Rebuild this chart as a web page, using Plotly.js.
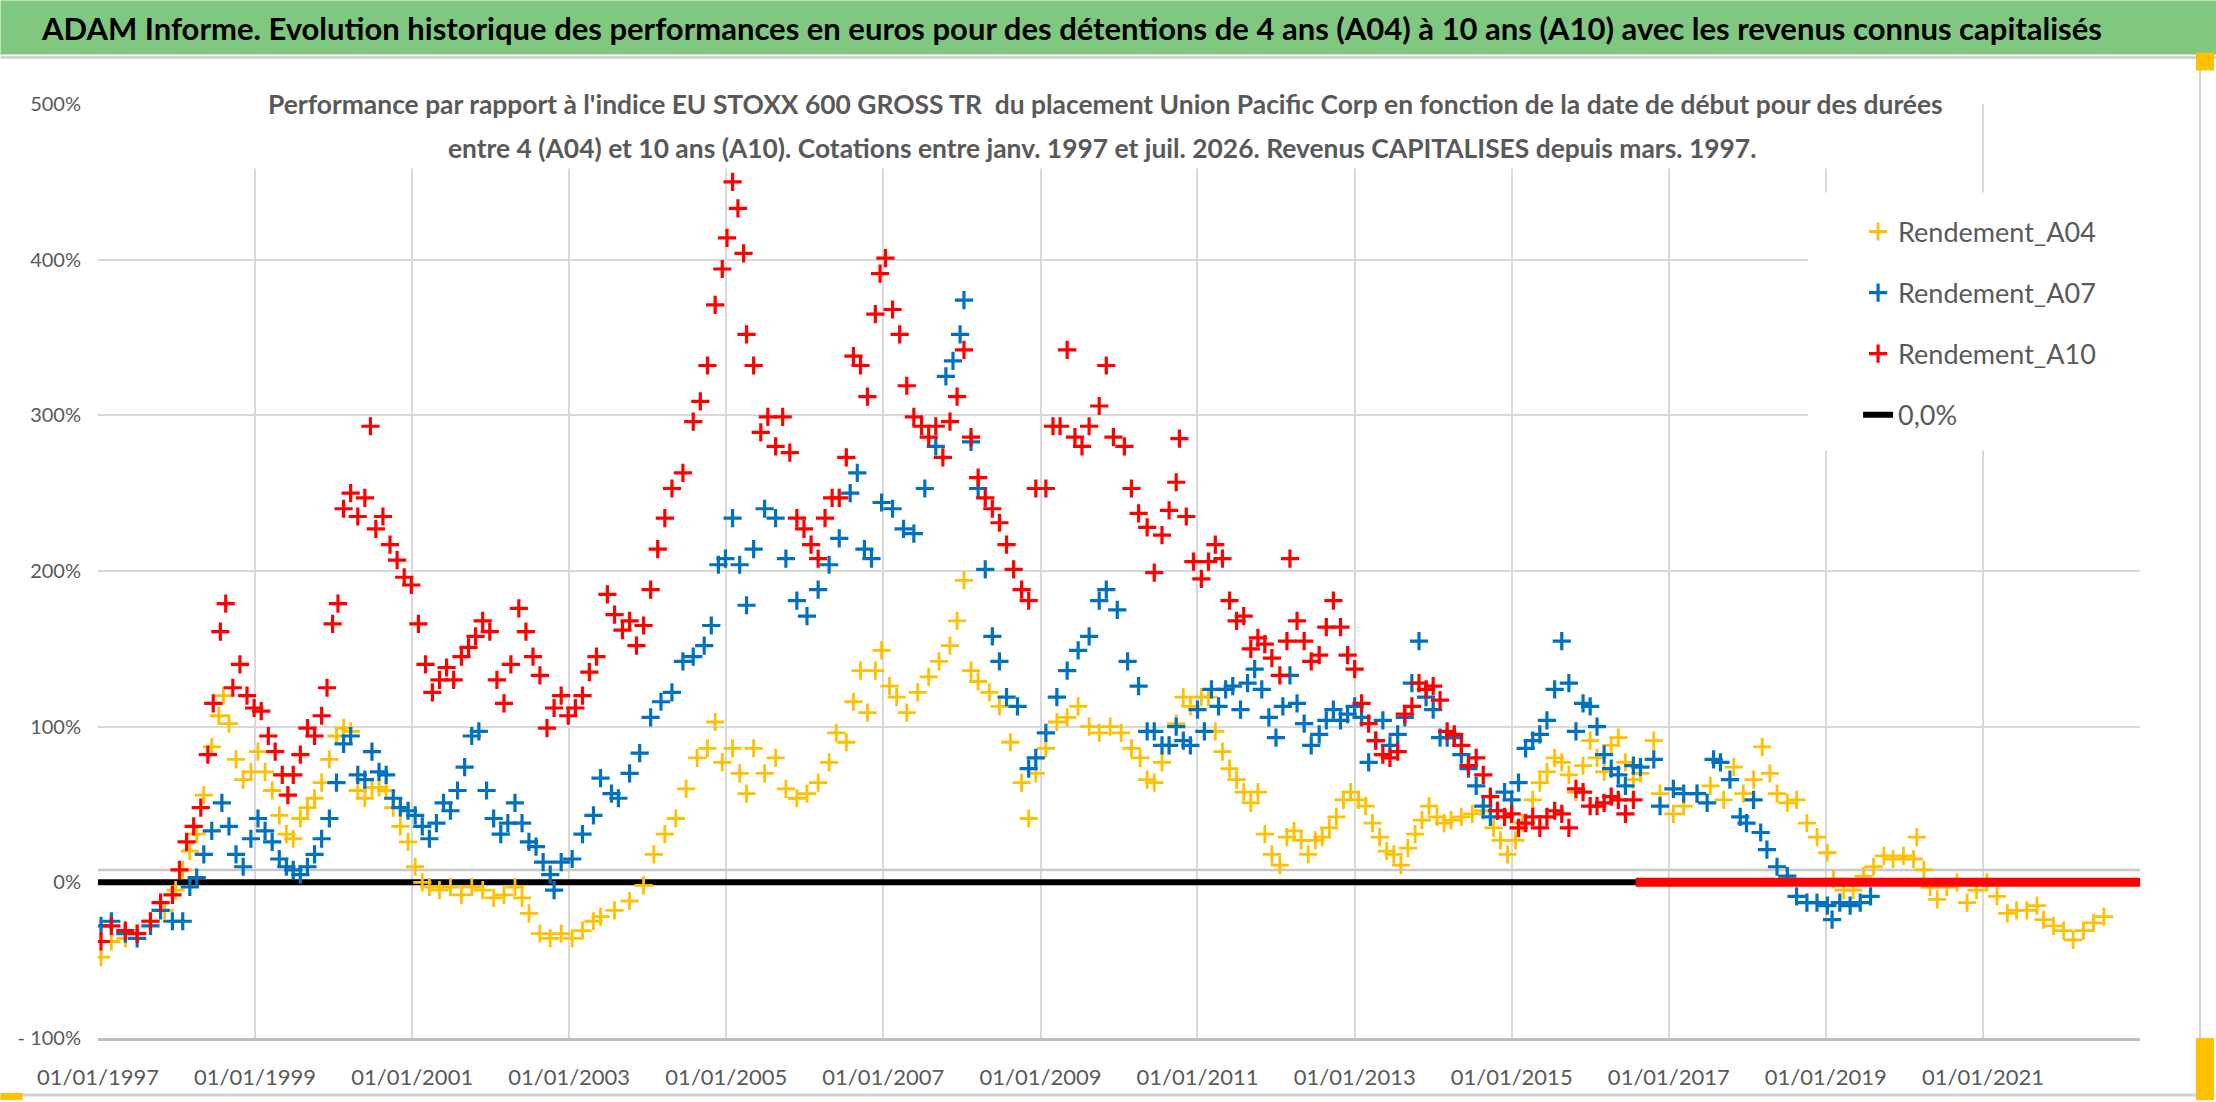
<!doctype html>
<html>
<head>
  <meta charset="utf-8">
  <title>ADAM Informe - Union Pacific Corp</title>
  <script src="https://cdn.plot.ly/plotly-3.0.1.min.js"></script>
  <style>
    body { margin: 0; background: white; }
    #chart { width: 2216px; height: 1102px; }
  </style>
</head>
<body>
  <div id="chart"></div>
  <script>
      // performances (%), dates as decimal years
      var a04Years = [1997.04,1997.17,1997.35,1997.5,1997.67,1997.85,1997.99,1998.08,1998.17,1998.26,1998.35,1998.45,1998.54,1998.6,1998.67,1998.76,1998.85,1998.95,1999.04,1999.13,1999.22,1999.31,1999.4,1999.49,1999.58,1999.67,1999.76,1999.85,1999.95,2000.04,2000.13,2000.22,2000.31,2000.4,2000.49,2000.58,2000.67,2000.76,2000.85,2000.95,2001.04,2001.13,2001.22,2001.35,2001.49,2001.63,2001.76,2001.9,2002.04,2002.17,2002.31,2002.4,2002.49,2002.63,2002.76,2002.9,2003.04,2003.17,2003.31,
        2003.4,2003.58,2003.77,2003.95,2004.08,2004.22,2004.36,2004.49,2004.63,2004.76,2004.86,2004.95,2005.08,2005.17,2005.26,2005.35,2005.49,2005.63,2005.76,2005.9,2006.03,2006.17,2006.31,2006.4,2006.53,2006.62,2006.71,2006.8,2006.9,2006.98,2007.08,2007.17,2007.3,2007.44,2007.58,2007.71,2007.85,2007.94,2008.03,2008.12,2008.21,2008.35,2008.48,2008.62,2008.76,2008.85,2008.94,2009.07,2009.21,2009.34,2009.48,2009.62,2009.75,2009.89,2010.03,2010.16,
        2010.27,2010.36,2010.45,2010.55,2010.64,2010.73,2010.82,2010.91,2011.05,2011.14,2011.23,2011.32,2011.41,2011.5,2011.59,2011.68,2011.77,2011.86,2011.95,2012.05,2012.14,2012.23,2012.32,2012.41,2012.5,2012.59,2012.68,2012.77,2012.86,2012.95,2013.05,2013.14,2013.23,2013.32,2013.41,2013.5,2013.59,2013.68,2013.77,2013.86,2013.95,2014.05,2014.14,2014.23,2014.36,2014.5,2014.64,2014.77,2014.86,2014.95,2015.05,2015.14,2015.27,2015.36,2015.45,2015.55,2015.64,2015.73,2015.82,2015.91,2016.0,2016.09,2016.18,2016.27,2016.36,2016.45,2016.55,
        2016.64,2016.81,2016.89,2017.06,2017.19,2017.36,2017.53,2017.7,2017.83,2017.95,2018.08,2018.19,2018.29,2018.38,2018.51,2018.63,2018.76,2018.89,2019.02,2019.1,2019.23,2019.35,2019.48,2019.61,2019.74,2019.86,2019.99,2020.12,2020.16,2020.25,2020.33,2020.42,2020.54,2020.67,2020.8,2020.92,2021.05,2021.18,2021.31,2021.43,2021.56,2021.69,2021.77,2021.9,2022.03,2022.15,2022.28,2022.41,2022.54];
      var a04Values = [-48,-38,-36,-33,-25,-18,-5,8,20,31,56,87,107,120,102,79,66,71,84,71,59,43,31,28,41,48,54,64,79,94,99,97,59,54,61,61,59,48,36,26,10,0,-3,-5,-3,-8,-3,-5,-10,-8,-3,-10,-20,-33,-36,-33,-36,-31,-25,
        -22,-18,-12,-2,18,31,41,60,80,86,103,77,86,70,57,86,70,80,60,54,57,64,77,96,90,116,136,109,136,149,126,119,109,122,132,142,152,168,194,136,129,122,113,90,64,41,70,86,103,106,113,100,96,100,96,86,
        80,66,64,77,88,102,119,113,119,119,97,84,73,66,58,51,58,31,18,11,29,33,27,18,27,29,35,42,53,58,53,49,38,29,20,18,11,22,31,40,49,42,38,40,42,44,46,35,27,18,27,38,53,64,71,80,77,69,58,75,91,80,71,88,93,77,66,
        70,91,57,44,49,57,62,53,74,57,66,87,70,57,51,53,38,29,19,2,-5,-5,4,10,17,15,17,15,29,8,-3,-11,-3,0,-13,-5,0,-9,-20,-18,-18,-15,-24,-28,-31,-37,-31,-26,-22];

      var a07Years = [1997.04,1997.17,1997.35,1997.5,1997.67,1997.8,1997.95,1998.08,1998.17,1998.26,1998.35,1998.45,1998.58,1998.67,1998.76,1998.85,1998.95,1999.04,1999.13,1999.22,1999.31,1999.4,1999.49,1999.58,1999.67,1999.76,1999.85,1999.95,2000.04,2000.13,2000.22,2000.31,2000.4,2000.49,2000.58,2000.67,2000.76,2000.85,2000.95,2001.04,2001.13,2001.22,2001.31,2001.4,2001.49,2001.58,2001.67,2001.76,2001.85,2001.95,2002.04,2002.13,2002.22,2002.31,2002.4,2002.49,2002.58,2002.67,2002.76,2002.81,2002.9,2003.04,2003.17,2003.31,
        2003.4,2003.54,2003.63,2003.77,2003.9,2004.04,2004.17,2004.31,2004.45,2004.58,2004.72,2004.81,2004.9,2004.99,2005.08,2005.17,2005.26,2005.35,2005.49,2005.63,2005.76,2005.9,2006.03,2006.17,2006.31,2006.44,2006.58,2006.67,2006.76,2006.85,2006.98,2007.12,2007.26,2007.39,2007.53,2007.67,2007.8,2007.89,2007.98,2008.03,2008.12,2008.21,2008.3,2008.39,2008.48,2008.57,2008.71,2008.85,2008.94,2009.07,2009.21,2009.34,2009.48,2009.62,2009.75,2009.84,2009.98,2010.11,2010.25,
        2010.36,2010.45,2010.55,2010.64,2010.73,2010.82,2010.91,2011.0,2011.09,2011.18,2011.27,2011.36,2011.45,2011.55,2011.64,2011.73,2011.82,2011.91,2012.0,2012.09,2012.18,2012.27,2012.36,2012.45,2012.55,2012.64,2012.73,2012.82,2012.91,2013.0,2013.09,2013.18,2013.27,2013.36,2013.45,2013.55,2013.64,2013.73,2013.82,2013.91,2014.0,2014.09,2014.18,2014.27,2014.36,2014.45,2014.55,2014.64,2014.73,2014.82,2014.91,2015.0,2015.09,2015.18,2015.27,2015.36,2015.45,2015.55,2015.64,2015.73,2015.82,2015.91,2016.0,2016.09,2016.18,2016.27,2016.36,2016.45,2016.55,
        2016.64,2016.81,2016.89,2017.06,2017.19,2017.36,2017.49,2017.57,2017.66,2017.78,2017.91,2017.99,2018.08,2018.17,2018.25,2018.38,2018.51,2018.63,2018.76,2018.89,2019.02,2019.08,2019.18,2019.31,2019.44,2019.57];
      var a07Values = [-28,-25,-33,-36,-28,-18,-25,-25,-3,3,18,33,51,36,18,10,28,41,33,26,15,10,8,5,10,18,28,41,64,89,94,69,66,84,71,69,54,48,46,43,36,28,38,51,46,59,74,94,97,59,41,31,38,51,38,26,23,13,5,-5,13,15,31,43,
        67,57,54,70,83,106,116,122,142,145,152,165,204,208,234,204,178,214,240,234,208,181,171,188,204,221,250,263,214,208,244,240,227,224,253,280,325,335,352,374,283,253,201,158,142,119,113,73,80,96,119,136,149,158,181,188,175,142,126,
        97,97,88,88,100,91,88,111,97,124,113,124,126,111,128,137,124,106,93,113,133,115,102,88,95,104,111,104,108,113,106,77,91,104,88,95,106,128,155,119,111,93,93,93,82,73,62,49,42,46,58,53,64,86,91,95,104,124,155,128,97,115,113,100,82,73,69,62,75,
        74,79,49,60,57,57,51,79,77,66,42,38,53,32,21,10,4,-9,-13,-13,-15,-24,-13,-15,-13,-9];

      var a10Years = [1997.04,1997.17,1997.35,1997.5,1997.67,1997.8,1997.95,1998.04,1998.13,1998.22,1998.31,1998.4,1998.47,1998.56,1998.63,1998.72,1998.81,1998.9,1998.99,1999.08,1999.17,1999.26,1999.35,1999.42,1999.49,1999.58,1999.67,1999.76,1999.85,1999.92,1999.99,2000.06,2000.13,2000.22,2000.31,2000.4,2000.47,2000.54,2000.63,2000.72,2000.81,2000.9,2000.99,2001.08,2001.17,2001.26,2001.35,2001.44,2001.53,2001.63,2001.72,2001.81,2001.9,2001.99,2002.08,2002.17,2002.26,2002.36,2002.45,2002.54,2002.63,2002.72,2002.81,2002.9,2002.99,2003.08,2003.17,2003.26,2003.35,
        2003.49,2003.58,2003.68,2003.77,2003.86,2003.95,2004.04,2004.13,2004.22,2004.31,2004.45,2004.58,2004.67,2004.76,2004.86,2004.95,2005.01,2005.08,2005.15,2005.22,2005.26,2005.35,2005.44,2005.53,2005.63,2005.72,2005.81,2005.9,2005.99,2006.08,2006.17,2006.26,2006.35,2006.44,2006.53,2006.62,2006.71,2006.8,2006.9,2006.96,2007.03,2007.12,2007.21,2007.3,2007.39,2007.49,2007.58,2007.67,2007.76,2007.85,2007.94,2008.03,2008.12,2008.21,2008.3,2008.39,2008.48,2008.57,2008.66,2008.76,2008.85,2008.94,2009.07,2009.16,2009.25,2009.34,2009.44,2009.53,2009.62,2009.75,2009.84,2009.93,2010.07,2010.16,2010.25,
        2010.36,2010.45,2010.55,2010.64,2010.73,2010.77,2010.86,2010.95,2011.05,2011.14,2011.23,2011.32,2011.41,2011.5,2011.59,2011.68,2011.77,2011.86,2011.95,2012.05,2012.14,2012.18,2012.27,2012.36,2012.45,2012.55,2012.64,2012.73,2012.82,2012.91,2013.0,2013.09,2013.18,2013.27,2013.36,2013.45,2013.55,2013.64,2013.73,2013.82,2013.91,2014.0,2014.09,2014.18,2014.27,2014.36,2014.45,2014.55,2014.64,2014.73,2014.82,2014.91,2015.0,2015.09,2015.18,2015.27,2015.36,2015.45,2015.55,2015.64,2015.73,2015.82,2015.91,2016.0,2016.09,2016.18,2016.27,2016.36,2016.45,2016.55];
      var a10Values = [-38,-28,-31,-33,-25,-13,-8,8,26,36,48,82,115,161,179,125,140,120,112,110,94,84,69,56,69,82,99,94,107,125,166,179,240,250,235,247,293,227,235,217,207,196,191,166,140,122,130,138,130,145,151,158,168,161,130,115,140,176,161,145,133,99,112,120,107,112,120,135,145,
        185,172,162,168,152,165,188,214,234,253,263,296,309,332,371,394,414,450,433,404,352,332,289,299,280,299,276,234,227,217,208,234,247,247,273,338,332,312,365,391,401,368,352,319,299,293,286,293,273,296,312,342,286,260,247,240,231,217,201,188,181,253,253,293,293,342,286,280,293,306,332,286,280,253,237,
        228,199,223,239,257,285,235,206,195,206,217,208,181,168,171,150,157,153,144,133,155,208,168,155,142,146,164,181,164,146,137,115,102,91,82,80,84,108,113,128,124,126,117,97,95,88,75,80,69,55,46,42,44,35,38,42,35,42,46,44,35,60,58,49,49,51,55,53,44,53];

      // after the last known start date the return is 0 until the end of the axis
      var a04ZeroRun = [2022.6, 2023.0];
      var a07ZeroRun = [2019.6, 2023.0];
      var a10ZeroRun = [2016.58, 2023.0];

      var zeroLineYears = [1997.0, 2023.0];
      var refLineValue = 8;   // thin grey line just above 0%

      var xTickYears = [1997,1999,2001,2003,2005,2007,2009,2011,2013,2015,2017,2019,2021];
      var yTickValues = [-100,0,100,200,300,400,500];
      var yTickLabels = ['- 100%','0%','100%','200%','300%','400%','500%'];

      var yellow = '#FFC000', blue = '#0070C0', red = '#FF0000';
      var grey = '#595959';
      var font = 'Lato, "Open Sans", sans-serif';

      function yearToDate(y) {
        var yr = Math.floor(y);
        var t0 = Date.UTC(yr, 0, 1), t1 = Date.UTC(yr + 1, 0, 1);
        return new Date(t0 + (y - yr) * (t1 - t0)).toISOString().slice(0, 10);
      }

      // plot box in page pixels, to place the boxes and texts
      var L = 97.5, R = 2140, T = 103.5, B = 1038;
      function px(x) { return (x - L) / (R - L); }
      function py(y) { return (B - y) / (B - T); }

      function markers(name, years, values, color, width, rank) {
        return {
          type: 'scatter', mode: 'markers', name: name,
          legendgroup: name, legendrank: rank,
          x: years.map(yearToDate), y: values,
          marker: { symbol: 'cross-thin', size: 13, color: color, line: { color: color, width: width } }
        };
      }
      function run(years, value, color, width) {
        return {
          type: 'scatter', mode: 'lines', showlegend: false,
          x: years.map(yearToDate), y: years.map(function () { return value; }),
          line: { color: color, width: width }
        };
      }

      var zeroTrace = run(zeroLineYears, 0, 'black', 6);
      zeroTrace.name = '0,0%';
      zeroTrace.showlegend = true;
      zeroTrace.legendgroup = '0,0%';
      zeroTrace.legendrank = 4;

      var data = [
        run(zeroLineYears, refLineValue, '#c8c8c8', 2.5),
        zeroTrace,
        markers('Rendement_A04', a04Years, a04Values, yellow, 2.8, 1),
        markers('Rendement_A07', a07Years, a07Values, blue, 3.2, 2),
        markers('Rendement_A10', a10Years, a10Values, red, 3.2, 3),
        run(a04ZeroRun, 0, yellow, 7),
        run(a07ZeroRun, 0, blue, 7),
        run(a10ZeroRun, 0, red, 9)
      ];

      var layout = {
        width: 2216, height: 1102,
        margin: { l: L, r: 2216 - R, t: T, b: 1102 - B },
        paper_bgcolor: 'white', plot_bgcolor: 'white',
        hovermode: false,
        font: { family: font, color: grey, size: 20 },
        xaxis: {
          type: 'date', range: [yearToDate(1997), yearToDate(2023)],
          tickvals: xTickYears.map(yearToDate),
          ticktext: xTickYears.map(function (y) { return '01/01/' + y; }),
          showgrid: true, gridcolor: '#d9d9d9', gridwidth: 2,
          showline: true, linecolor: '#bfbfbf', linewidth: 3,
          zeroline: false, ticks: '', ticklabelstandoff: 18,
          tickfont: { size: 22, color: grey }
        },
        yaxis: {
          range: [-100, 500], tickvals: yTickValues, ticktext: yTickLabels,
          showgrid: true, gridcolor: '#d9d9d9', gridwidth: 2,
          zeroline: false, showline: false, ticks: '', ticklabelstandoff: 16,
          tickfont: { size: 20, color: grey }
        },
        showlegend: true,
        legend: {
          x: px(1858), y: py(207), xanchor: 'left', yanchor: 'top',
          bgcolor: 'rgba(0,0,0,0)', traceorder: 'grouped', tracegroupgap: 23,
          font: { family: font, size: 27, color: grey }
        },
        shapes: [
          // header band
          { type: 'rect', xref: 'paper', yref: 'paper', x0: px(0), x1: px(2216), y0: py(0), y1: py(54),
            fillcolor: '#80C87F', line: { width: 0 }, layer: 'below' },
          { type: 'line', xref: 'paper', yref: 'paper', x0: px(0), x1: px(2216), y0: py(57), y1: py(57),
            line: { color: '#d4d4d4', width: 3 } },
          // chart frame
          { type: 'line', xref: 'paper', yref: 'paper', x0: px(2200), x1: px(2200), y0: py(58), y1: py(1095),
            line: { color: '#d4d4d4', width: 2 } },
          { type: 'line', xref: 'paper', yref: 'paper', x0: px(0), x1: px(2200), y0: py(1095), y1: py(1095),
            line: { color: '#d4d4d4', width: 3 } },
          // title and legend boxes hide the grid
          { type: 'rect', xref: 'paper', yref: 'paper', x0: px(252), x1: px(1956), y0: py(80), y1: py(168),
            fillcolor: 'white', line: { width: 0 }, layer: 'above' },
          { type: 'rect', xref: 'paper', yref: 'paper', x0: px(1808), x1: px(2141), y0: py(192), y1: py(450),
            fillcolor: 'white', line: { width: 0 }, layer: 'above' },
          // selection handles
          { type: 'rect', xref: 'paper', yref: 'paper', x0: px(0), x1: px(22), y0: py(1093), y1: py(1100),
            fillcolor: yellow, line: { width: 0 } },
          { type: 'rect', xref: 'paper', yref: 'paper', x0: px(2196), x1: px(2214), y0: py(1038), y1: py(1100),
            fillcolor: yellow, line: { width: 0 } },
          { type: 'rect', xref: 'paper', yref: 'paper', x0: px(2196), x1: px(2214), y0: py(52), y1: py(70),
            fillcolor: yellow, line: { width: 0 } }
        ],
        annotations: [
          { text: 'ADAM Informe. Evolution historique des performances en euros pour des détentions de 4 ans (A04) à 10 ans (A10) avec les revenus connus capitalisés',
            xref: 'paper', yref: 'paper', x: px(1071), y: py(27), xanchor: 'center', yanchor: 'middle',
            showarrow: false, font: { family: font, size: 31, color: 'black', weight: 'bold' } },
          { text: "Performance par rapport à l'indice EU STOXX 600 GROSS TR  du placement Union Pacific Corp en fonction de la date de début pour des durées",
            xref: 'paper', yref: 'paper', x: px(1105), y: py(104), xanchor: 'center', yanchor: 'middle',
            showarrow: false, font: { family: font, size: 26.4, color: grey, weight: 'bold' } },
          { text: 'entre 4 (A04) et 10 ans (A10). Cotations entre janv. 1997 et juil. 2026. Revenus CAPITALISES depuis mars. 1997.',
            xref: 'paper', yref: 'paper', x: px(1102), y: py(148), xanchor: 'center', yanchor: 'middle',
            showarrow: false, font: { family: font, size: 26.4, color: grey, weight: 'bold' } }
        ]
      };

      Plotly.newPlot('chart', data, layout, { staticPlot: true, displayModeBar: false });
  </script>
</body>
</html>
